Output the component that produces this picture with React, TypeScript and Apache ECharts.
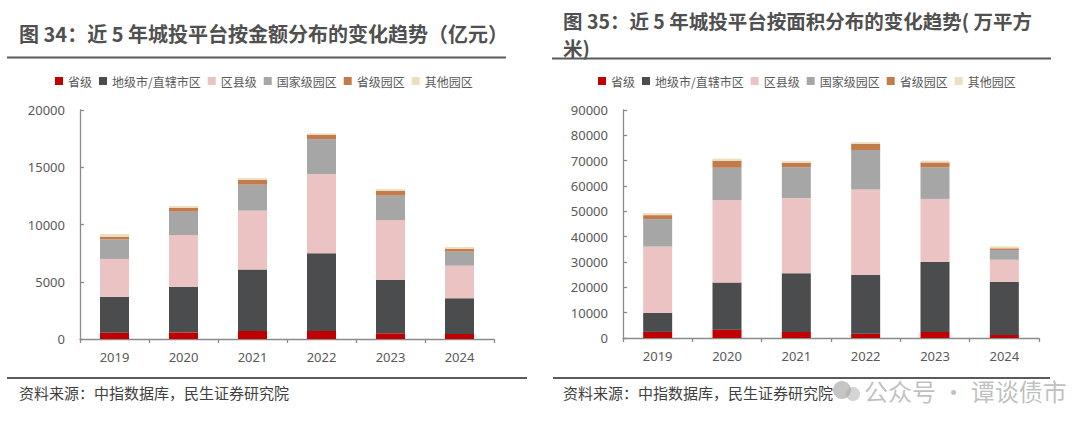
import React, { useEffect, useRef } from "react";
import * as echarts from "echarts";

const years = ["2019", "2020", "2021", "2022", "2023", "2024"];
const seriesNames = ["省级", "地级市/直辖市区", "区县级", "国家级园区", "省级园区", "其他园区"];
const colors = ["#C00000", "#4B4C4E", "#EBC3C3", "#A6A6A6", "#C27C4C", "#EEDFC3"];

// 金额（亿元）
const amtProvince = [550, 580, 700, 700, 500, 440];
const amtCity = [3150, 3990, 5380, 6780, 4650, 3110];
const amtCounty = [3290, 4510, 5130, 6900, 5240, 2850];
const amtNationalPark = [1710, 2040, 2270, 3060, 2130, 1230];
const amtProvincePark = [240, 350, 410, 410, 430, 260];
const amtOtherPark = [230, 150, 170, 110, 150, 150];

// 面积（万平方米）
const areaProvince = [2400, 3300, 2400, 1700, 2400, 1200];
const areaCity = [7500, 18600, 23200, 23200, 27600, 20900];
const areaCounty = [26200, 32600, 29600, 33700, 24900, 8800];
const areaNationalPark = [10800, 12700, 12200, 15600, 12400, 3800];
const areaProvincePark = [1600, 2800, 1800, 2400, 2000, 700];
const areaOtherPark = [800, 800, 700, 700, 700, 800];

const amtData = [amtProvince, amtCity, amtCounty, amtNationalPark, amtProvincePark, amtOtherPark];
const areaData = [areaProvince, areaCity, areaCounty, areaNationalPark, areaProvincePark, areaOtherPark];

const titleLeft = "图 34：近 5 年城投平台按金额分布的变化趋势（亿元）";
const titleRight1 = "图 35：近 5 年城投平台按面积分布的变化趋势( 万平方";
const titleRight2 = "米)";
const sourceText = "资料来源：中指数据库，民生证券研究院";
const watermark = "公众号 · 谭谈债市";

const CJK = '"Noto Sans CJK SC", "Noto Sans", sans-serif';
const NUM = '"Noto Sans", "Open Sans", sans-serif';

export default function App() {
  const ref = useRef<HTMLDivElement>(null);
  useEffect(() => {
    if (!ref.current) return;
    const chart = echarts.init(ref.current, undefined, { renderer: "svg" });
    const axisLineStyle = { color: "#8A8A8A", width: 1.3 };
    const xAxisCommon = {
      type: "category" as const,
      data: years,
      axisLine: { show: true, lineStyle: axisLineStyle },
      axisTick: { show: true, length: 4, lineStyle: axisLineStyle },
      axisLabel: { color: "#595959", fontSize: 13, fontFamily: NUM, margin: 11 },
      splitLine: { show: false },
    };
    const yAxisCommon = {
      type: "value" as const,
      min: 0,
      axisLine: { show: true, lineStyle: axisLineStyle },
      axisTick: { show: true, inside: true, length: 4, lineStyle: axisLineStyle },
      axisLabel: {
        color: "#595959",
        fontSize: 13,
        fontFamily: NUM,
        margin: 15,
        formatter: (v: number) => String(v),
      },
      splitLine: { show: false },
    };
    const mkSeries = (data: number[][], idx: number, stack: string) =>
      data.map((d, i) => ({
        name: seriesNames[i],
        type: "bar" as const,
        stack,
        xAxisIndex: idx,
        yAxisIndex: idx,
        barWidth: 29,
        data: d,
        itemStyle: { color: colors[i] },
      }));
    const legendCommon = {
      data: seriesNames,
      itemWidth: 8,
      itemHeight: 8,
      itemGap: 7,
      icon: "rect",
      textStyle: { color: "#595959", fontSize: 12, fontFamily: CJK },
      selectedMode: false,
    };
    const txt = (
      x: number,
      y: number,
      text: string,
      size: number,
      weight: string,
      fill: string,
      lineHeight?: number
    ) => ({
      type: "text" as const,
      x,
      y,
      style: {
        text,
        fontSize: size,
        fontWeight: weight,
        fontFamily: CJK,
        fill,
        verticalAlign: "middle",
        ...(lineHeight ? { lineHeight } : {}),
      },
    });
    const line = (x1: number, x2: number, y: number) => ({
      type: "line" as const,
      shape: { x1, y1: y, x2, y2: y },
      style: { stroke: "#5A5A5A", lineWidth: 2 },
    });
    chart.setOption({
      animation: false,
      backgroundColor: "#ffffff",
      color: colors,
      grid: [
        { left: 80, right: 586, top: 110, bottom: 98 },
        { left: 623, right: 41, top: 110, bottom: 99 },
      ],
      xAxis: [
        { ...xAxisCommon, gridIndex: 0 },
        { ...xAxisCommon, gridIndex: 1 },
      ],
      yAxis: [
        { ...yAxisCommon, gridIndex: 0, max: 20000, interval: 5000 },
        { ...yAxisCommon, gridIndex: 1, max: 90000, interval: 10000 },
      ],
      legend: [
        { ...legendCommon, left: 50, top: 70 },
        { ...legendCommon, left: 593, top: 70 },
      ],
      series: [...mkSeries(amtData, 0, "amt"), ...mkSeries(areaData, 1, "area")],
      graphic: [
        txt(19, 33, titleLeft, 20, "bold", "#505050"),
        txt(563, 20, titleRight1, 19.5, "bold", "#505050"),
        txt(563, 47, titleRight2, 19.5, "bold", "#505050"),
        line(7, 506, 57.5),
        line(552, 1051, 58.5),
        line(7, 527, 378),
        line(553, 1050, 378),
        txt(19, 392, sourceText, 15, "normal", "#404040"),
        txt(563, 392, sourceText, 15, "normal", "#404040"),
        {
          type: "circle",
          shape: { cx: 842, cy: 390, r: 9 },
          style: { fill: "rgba(150,150,150,0.55)" },
        },
        {
          type: "circle",
          shape: { cx: 853, cy: 394, r: 7 },
          style: { fill: "rgba(170,170,170,0.5)" },
        },
        txt(864, 390, watermark, 24, "normal", "rgba(150,150,150,0.6)"),
      ],
    });
    return () => chart.dispose();
  }, []);
  return (
    <div
      ref={ref}
      style={{ position: "fixed", left: 0, top: 0, width: 1080, height: 437, background: "#fff" }}
    />
  );
}
